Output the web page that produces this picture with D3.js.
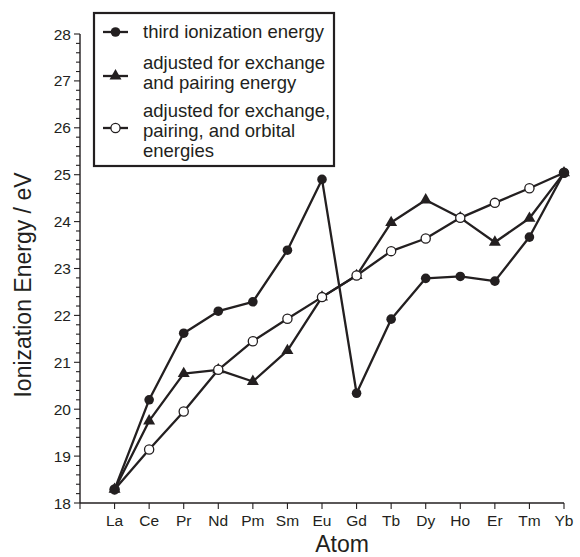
<!DOCTYPE html>
<html>
<head>
<meta charset="utf-8">
<script src="https://cdn.jsdelivr.net/npm/d3@7"></script>
<style>
  html, body { margin: 0; padding: 0; background: #fff; }
  svg text { font-family: "Liberation Sans", Arial, Helvetica, sans-serif; fill: #231f20; }
</style>
</head>
<body>
<svg id="chart" width="580" height="557"></svg>
<script>
// Lanthanide series, La through Yb
const atoms = ["La", "Ce", "Pr", "Nd", "Pm", "Sm", "Eu", "Gd", "Tb", "Dy", "Ho", "Er", "Tm", "Yb"];

// Ionization energies in eV
const thirdIonization = [18.29, 20.20, 21.62, 22.09, 22.29, 23.39, 24.90, 20.34, 21.92, 22.79, 22.83, 22.73, 23.67, 25.04];
const exchangePairing = [18.29, 19.75, 20.76, 20.84, 20.59, 21.25, 22.39, 22.85, 23.98, 24.46, 24.08, 23.56, 24.07, 25.04];
const exchangePairingOrbital = [18.29, 19.14, 19.95, 20.84, 21.45, 21.93, 22.39, 22.85, 23.37, 23.64, 24.08, 24.40, 24.71, 25.04];

const yTicks = [18, 19, 20, 21, 22, 23, 24, 25, 26, 27, 28];

const legendEntries = [
  { lines: ["third ionization energy"], symbol: "circle" },
  { lines: ["adjusted for exchange", "and pairing energy"], symbol: "triangle" },
  { lines: ["adjusted for exchange,", "pairing, and orbital", "energies"], symbol: "open" }
];

const ink = "#231f20";
const svg = d3.select("#chart");

const x = d3.scaleLinear().domain([-1, atoms.length - 1]).range([80, 564]);
const y = d3.scaleLinear().domain([18, 28]).range([503, 34]);

// Y axis with major and minor ticks
const yMinor = d3.range(18, 28.0001, 0.2);
const yAxisG = svg.append("g").attr("transform", `translate(${x(-1)},0)`);
yAxisG.append("line").attr("x1", 0).attr("x2", 0).attr("y1", y(28)).attr("y2", y(18))
  .attr("stroke", ink).attr("stroke-width", 1.4);
yAxisG.selectAll("line.minor").data(yMinor).join("line").attr("class", "minor")
  .attr("x1", 0).attr("x2", d => (Math.abs(d - Math.round(d)) < 1e-6 ? -6 : -4))
  .attr("y1", d => y(d)).attr("y2", d => y(d))
  .attr("stroke", ink).attr("stroke-width", 1.1);
yAxisG.selectAll("text").data(yTicks).join("text")
  .attr("x", -9).attr("y", d => y(d)).attr("dy", "0.36em")
  .attr("text-anchor", "end").attr("font-size", "15.5px").text(d => d);

// X axis
const xIdx = d3.range(-1, atoms.length);
const xAxisG = svg.append("g").attr("transform", `translate(0,${y(18)})`);
xAxisG.append("line").attr("x1", x(-1)).attr("x2", x(atoms.length - 1)).attr("y1", 0).attr("y2", 0)
  .attr("stroke", ink).attr("stroke-width", 1.4);
xAxisG.selectAll("line.tick").data(xIdx).join("line").attr("class", "tick")
  .attr("x1", d => x(d)).attr("x2", d => x(d)).attr("y1", 0).attr("y2", 6)
  .attr("stroke", ink).attr("stroke-width", 1.1);
xAxisG.selectAll("text").data(atoms).join("text")
  .attr("x", (d, i) => x(i)).attr("y", 23)
  .attr("text-anchor", "middle").attr("font-size", "15.5px").text(d => d);

// Axis titles
svg.append("text").attr("x", 342).attr("y", 552).attr("text-anchor", "middle")
  .attr("font-size", "23px").text("Atom");
svg.append("text").attr("transform", "translate(31,285) rotate(-90)").attr("text-anchor", "middle")
  .attr("font-size", "23px").text("Ionization Energy / eV");

// Series
const line = d3.line().x((d, i) => x(i)).y(d => y(d));
const tri = d3.symbol().type(d3.symbolTriangle).size(62);

function drawLine(values) {
  svg.append("path").datum(values).attr("d", line)
    .attr("fill", "none").attr("stroke", ink).attr("stroke-width", 2.3).attr("stroke-linejoin", "round");
}

drawLine(exchangePairing);
drawLine(exchangePairingOrbital);
drawLine(thirdIonization);

svg.append("g").selectAll("path").data(exchangePairing).join("path")
  .attr("transform", (d, i) => `translate(${x(i)},${y(d)})`).attr("d", tri).attr("fill", ink);

svg.append("g").selectAll("circle").data(exchangePairingOrbital).join("circle")
  .attr("cx", (d, i) => x(i)).attr("cy", d => y(d)).attr("r", 4.6)
  .attr("fill", "#fff").attr("stroke", ink).attr("stroke-width", 1.3);

svg.append("g").selectAll("circle").data(thirdIonization).join("circle")
  .attr("cx", (d, i) => x(i)).attr("cy", d => y(d)).attr("r", 4.8).attr("fill", ink);

// Legend
const legend = svg.append("g");
legend.append("rect").attr("x", 94).attr("y", 13).attr("width", 240).attr("height", 153)
  .attr("fill", "#fff").attr("stroke", ink).attr("stroke-width", 2.2);

const entryBaselines = [[38], [68.5, 89], [117, 137, 157]];
const markerY = [32, 76, 128];
legendEntries.forEach((e, k) => {
  const g = legend.append("g");
  g.append("line").attr("x1", 103).attr("x2", 128).attr("y1", markerY[k]).attr("y2", markerY[k])
    .attr("stroke", ink).attr("stroke-width", 2.3);
  if (e.symbol === "circle") {
    g.append("circle").attr("cx", 115.5).attr("cy", markerY[k]).attr("r", 4.8).attr("fill", ink);
  } else if (e.symbol === "triangle") {
    g.append("path").attr("transform", `translate(115.5,${markerY[k]})`).attr("d", tri).attr("fill", ink);
  } else {
    g.append("circle").attr("cx", 115.5).attr("cy", markerY[k]).attr("r", 4.6)
      .attr("fill", "#fff").attr("stroke", ink).attr("stroke-width", 1.3);
  }
  e.lines.forEach((t, j) => {
    g.append("text").attr("x", 143).attr("y", entryBaselines[k][j])
      .attr("font-size", "18.5px").text(t);
  });
});
</script>
</body>
</html>
